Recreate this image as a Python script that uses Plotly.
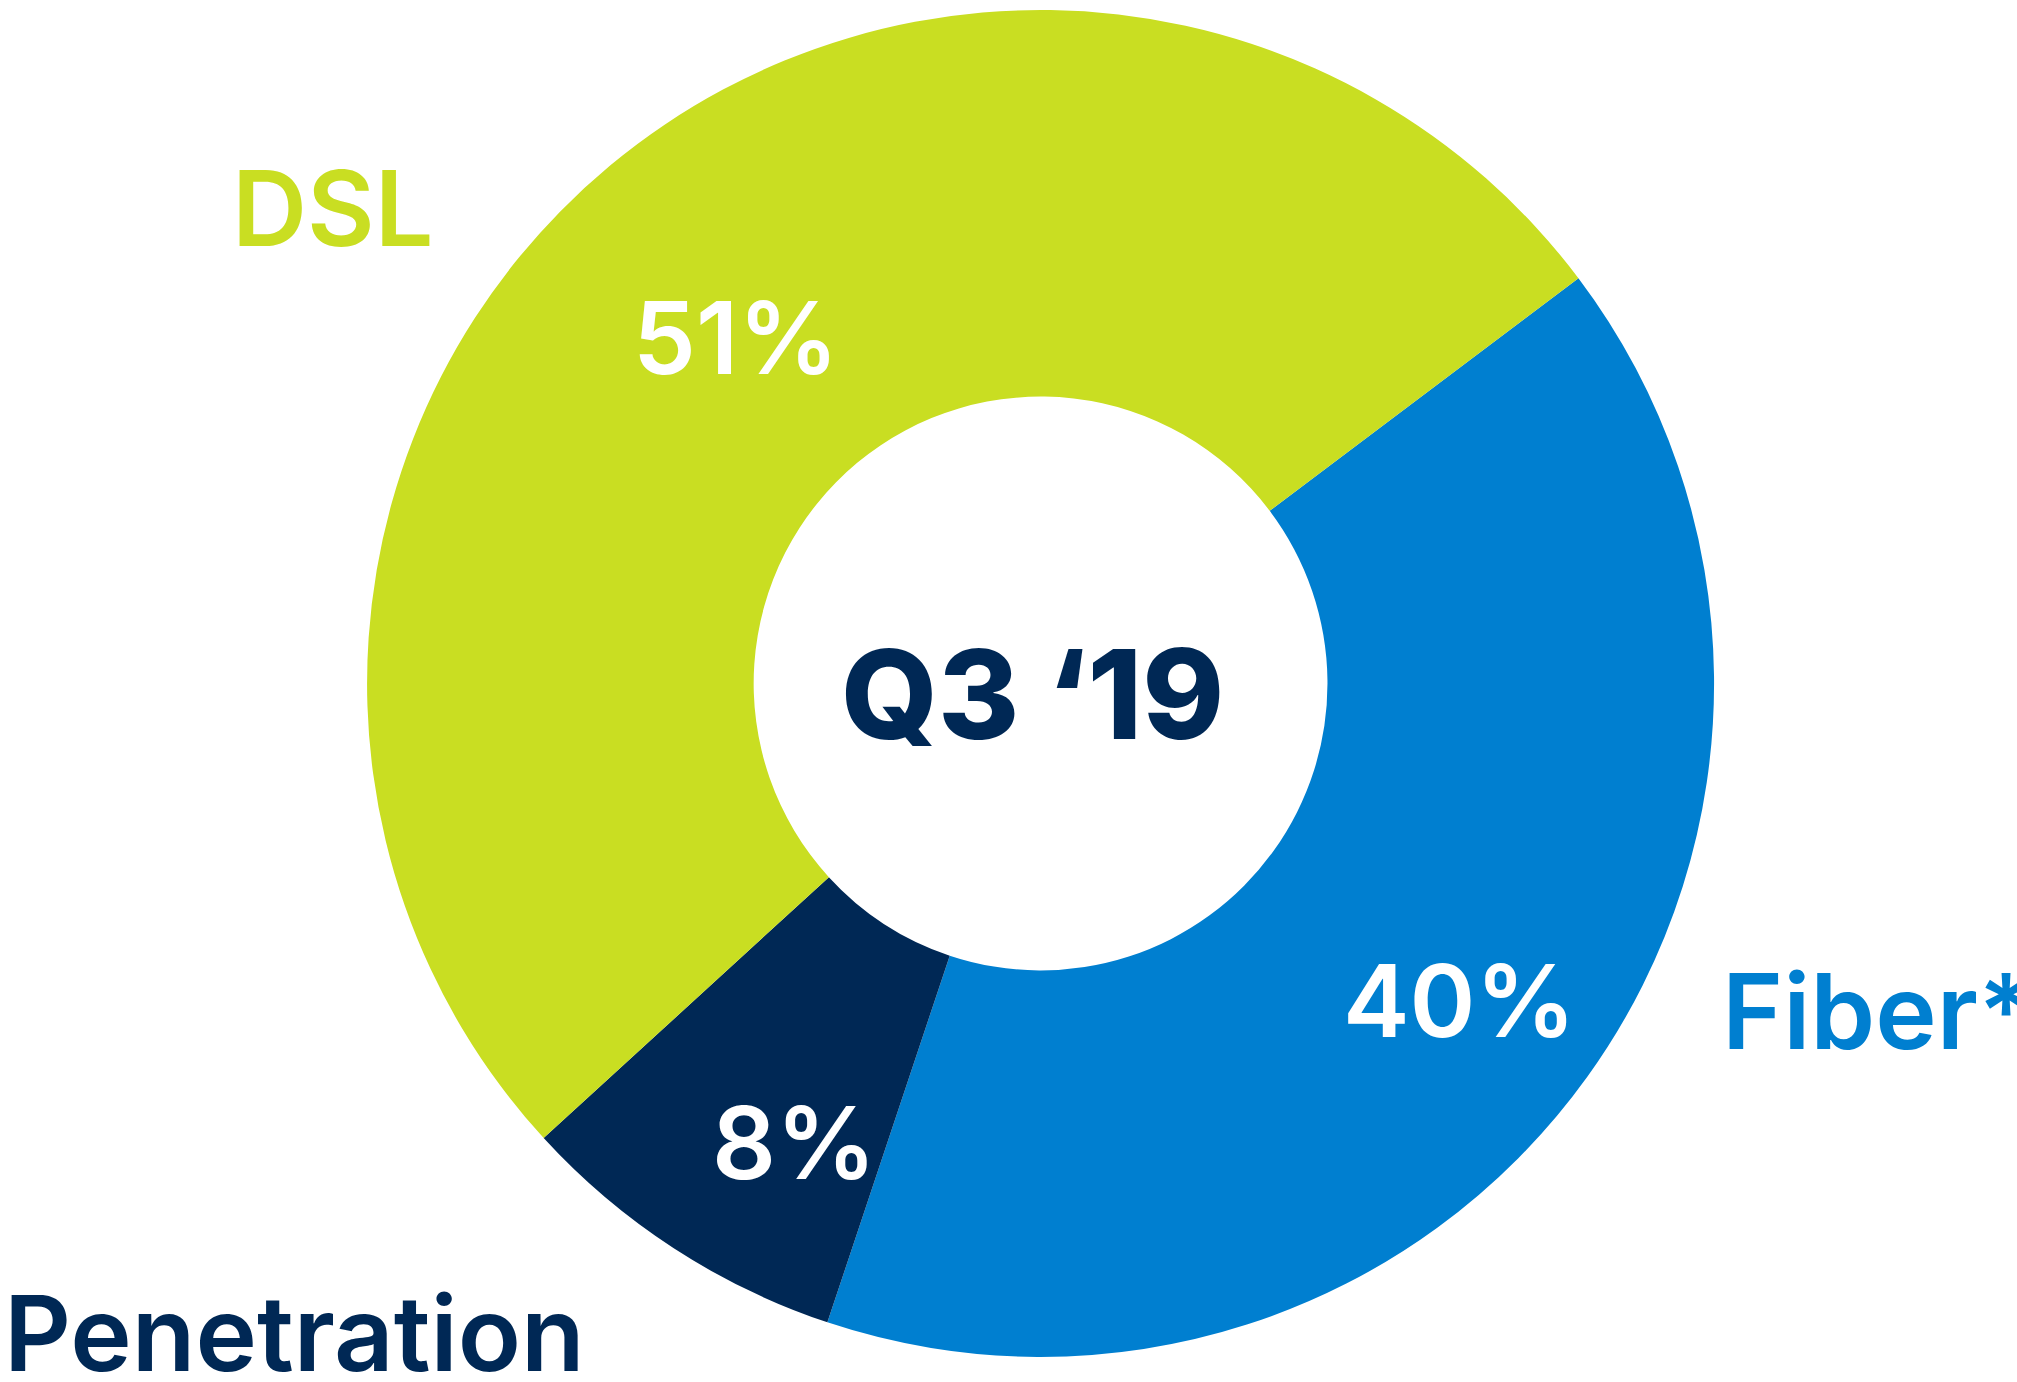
import plotly.graph_objects as go

# Broadband penetration by technology, Q3 '19
segments = ["Fiber*", "Other", "DSL"]
shares = [40, 8, 51]
colors = ["#007FD0", "#002855", "#C9DE22"]
center_title = "Q3 \u201819"
chart_title = "Penetration"

W, H = 2017, 1382
FONT = "Inter"


def px(x, y):
    return x / W, 1 - y / H


fig = go.Figure(
    go.Pie(
        labels=segments,
        values=shares,
        sort=False,
        direction="clockwise",
        rotation=53,
        hole=0.426,
        marker=dict(colors=colors, line=dict(width=0)),
        textinfo="none",
        hoverinfo="skip",
        showlegend=False,
        domain=dict(x=[0.5159 - 0.36, 0.5159 + 0.36], y=[1 - 1357 / H, 1 - 10 / H]),
    )
)

share = dict(zip(segments, shares))
annotations = []


def add(text, x, y, size, color, weight=600, xanchor="center"):
    ax, ay = px(x, y)
    annotations.append(
        dict(
            text=text,
            x=ax,
            y=ay,
            xref="paper",
            yref="paper",
            xanchor=xanchor,
            yanchor="middle",
            showarrow=False,
            font=dict(family=FONT, size=size, color=color, weight=weight),
        )
    )


# value labels inside the ring
add(f"{share['DSL']}%", 736, 338, 100, "white")
add(f"{share['Fiber*']}%", 1459, 1000, 100, "white")
add(f"{share['Other']}%", 794, 1142, 100, "white")

# segment names outside the ring
add("DSL", 230, 208, 104, colors[2], xanchor="left")
add("Fiber*", 2036, 1011, 104, colors[0], xanchor="right")

# centre label and chart title
add(center_title, 1032, 694, 124, colors[1], weight=800)
add(chart_title, 2, 1333, 104, colors[1], xanchor="left")

fig.update_layout(
    width=W,
    height=H,
    margin=dict(l=0, r=0, t=0, b=0),
    paper_bgcolor="white",
    plot_bgcolor="white",
    annotations=annotations,
)

fig.write_html("out.html")
